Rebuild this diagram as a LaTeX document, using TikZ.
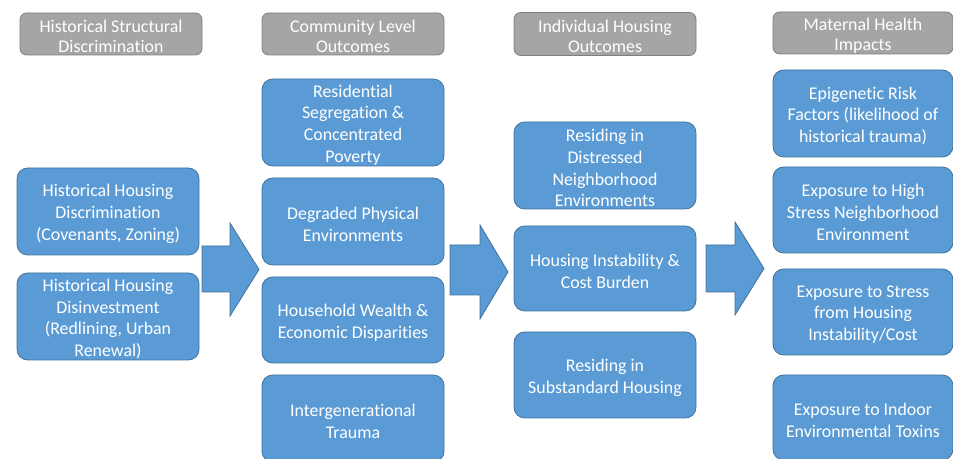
\documentclass[tikz,border=0pt]{standalone}
\usepackage{fontspec}
\setmainfont{Carlito}[Ligatures=NoCommon]
\definecolor{boxblue}{HTML}{5B9BD5}
\definecolor{boxedge}{HTML}{41719C}
\definecolor{hdrgray}{HTML}{A5A5A5}
\definecolor{hdredge}{HTML}{7F7F7F}
\tikzset{
  px/.style={x=0.75pt,y=-0.75pt},
  bluebox/.style={draw=boxedge, line width=0.6pt, fill=boxblue, rounded corners=8pt, inner sep=0pt},
  bluetext/.style={text=white, align=center, inner sep=0pt, font=\fontsize{13.4}{16.3}\selectfont},
  hdrbox/.style={draw=hdredge, line width=0.6pt, fill=hdrgray, rounded corners=5pt, inner sep=0pt},
  hdrtext/.style={text=white, align=center, inner sep=0pt, font=\fontsize{13.4}{15.3}\selectfont},
  bigarrow/.style={draw=boxedge, line width=0.6pt, fill=boxblue, line join=miter},
}
\newcommand{\pbox}[8]{% box style, text style, name, cx, cy, w, h, text
  \node[#1, minimum width=#6*0.75pt, minimum height=#7*0.75pt] (#3) at (#4,#5) {};
  \node[#2] (#3-t) at ([yshift=-1.9pt]#3.center) {#8};}
\begin{document}
\begin{tikzpicture}[px]
\useasboundingbox (0,0) rectangle (953,459);
% headers
\pbox{hdrbox}{hdrtext}{h1}{111}{34}{182}{42}{Historical Structural\\Discrimination}
\pbox{hdrbox}{hdrtext}{h2}{353}{34}{182}{42}{Community Level\\Outcomes}
\pbox{hdrbox}{hdrtext}{h3}{605}{34}{182}{43}{Individual Housing\\Outcomes}
\pbox{hdrbox}{hdrtext}{h4}{863}{33}{180}{42}{Maternal Health\\Impacts}
% column 1
\pbox{bluebox}{bluetext}{a1}{108}{211.5}{182}{87}{Historical Housing\\Discrimination\\(Covenants, Zoning)}
\pbox{bluebox}{bluetext}{a2}{108}{316.5}{182}{87}{Historical Housing\\Disinvestment\\(Redlining, Urban\\Renewal)}
% column 2
\pbox{bluebox}{bluetext}{c1}{353}{122.5}{182}{87}{Residential\\Segregation \&\\Concentrated\\Poverty}
\pbox{bluebox}{bluetext}{c2}{353}{221.5}{182}{87}{Degraded Physical\\Environments}
\pbox{bluebox}{bluetext}{c3}{353}{320}{182}{86}{Household Wealth \&\\Economic Disparities}
\pbox{bluebox}{bluetext}{c4}{353}{418.5}{182}{87}{Intergenerational\\Trauma}
% column 3
\pbox{bluebox}{bluetext}{d1}{605}{165.5}{182}{87}{Residing in\\Distressed\\Neighborhood\\Environments}
\pbox{bluebox}{bluetext}{d2}{605}{268.5}{182}{85}{Housing Instability \&\\Cost Burden}
\pbox{bluebox}{bluetext}{d3}{605}{375}{182}{86}{Residing in\\Substandard Housing}
% column 4
\pbox{bluebox}{bluetext}{e1}{863}{113.5}{180}{87}{Epigenetic Risk\\Factors (likelihood of\\historical trauma)}
\pbox{bluebox}{bluetext}{e2}{863}{210}{180}{86}{Exposure to High\\Stress Neighborhood\\Environment}
\pbox{bluebox}{bluetext}{e3}{863}{312}{180}{86}{Exposure to Stress\\from Housing\\Instability/Cost}
\pbox{bluebox}{bluetext}{e4}{863}{417.5}{180}{85}{Exposure to Indoor\\Environmental Toxins}
% block arrows
\draw[bigarrow] (202,246) -- (230,246) -- (230,223) -- (259,269.5) -- (230,316) -- (230,292) -- (202,292) -- cycle;
\draw[bigarrow] (450,245) -- (480,245) -- (480,225) -- (508,272) -- (480,319) -- (480,295) -- (450,295) -- cycle;
\draw[bigarrow] (706,245) -- (735,245) -- (735,222) -- (764,268.5) -- (735,315) -- (735,292) -- (706,292) -- cycle;
\end{tikzpicture}
\end{document}
